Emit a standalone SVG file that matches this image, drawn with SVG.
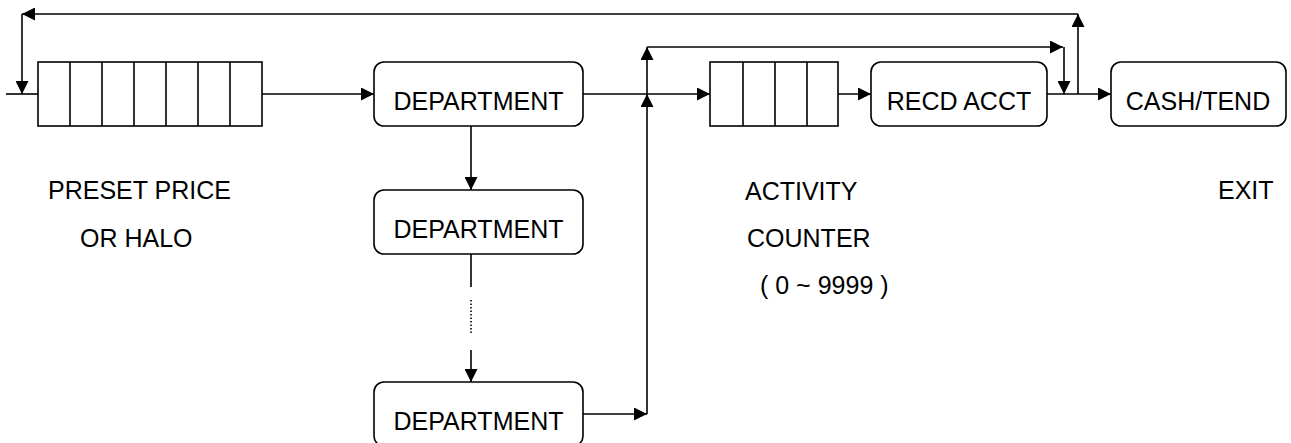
<svg xmlns="http://www.w3.org/2000/svg" width="1291" height="443" viewBox="0 0 1291 443">
<style>
.box{fill:#fff;stroke:#000;stroke-width:1.6}
.ln{fill:none;stroke:#000;stroke-width:1.6}
.arr{marker-end:url(#ah)}
.dot{stroke-dasharray:1.5 2}
text{font-family:"Liberation Sans",Arial,sans-serif;font-size:25px;fill:#000}
.c{text-anchor:middle}
</style>
<defs>
<marker id="ah" markerUnits="userSpaceOnUse" markerWidth="14" markerHeight="13" refX="13" refY="6.5" orient="auto">
<path d="M0,0 L13,6.5 L0,13 z" fill="#000"/>
</marker>
</defs>
<g id="preset">
<rect class="box" x="38" y="62" width="224" height="64"/>
<path class="ln" d="M70,62V126M102,62V126M134,62V126M166,62V126M198,62V126M230,62V126"/>
</g>
<g id="dept1"><rect class="box" x="374" y="62" width="209" height="64" rx="10"/><text class="c" x="478.5" y="110">DEPARTMENT</text></g>
<g id="dept2"><rect class="box" x="374" y="190" width="209" height="64" rx="10"/><text class="c" x="478.5" y="238">DEPARTMENT</text></g>
<g id="dept3"><rect class="box" x="374" y="382" width="209" height="64" rx="10"/><text class="c" x="478.5" y="430">DEPARTMENT</text></g>
<g id="counter">
<rect class="box" x="710" y="62" width="128" height="64"/>
<path class="ln" d="M743,62V126M775,62V126M807,62V126"/>
</g>
<g id="recd"><rect class="box" x="871" y="62" width="176" height="64" rx="10"/><text class="c" x="959" y="110">RECD ACCT</text></g>
<g id="cash"><rect class="box" x="1111" y="62" width="175" height="64" rx="10"/><text class="c" x="1198" y="110">CASH/TEND</text></g>
<g id="labels">
<text x="48" y="199">PRESET PRICE</text>
<text x="80" y="247">OR HALO</text>
<text x="745" y="200">ACTIVITY</text>
<text x="747" y="247">COUNTER</text>
<text x="760" y="294">( 0 ~ 9999 )</text>
<text x="1218" y="199">EXIT</text>
</g>
<g id="connectors">
<path class="ln" d="M6,94H38"/>
<path class="ln arr" d="M262,94H374"/>
<path class="ln arr" d="M583,94H710"/>
<path class="ln arr" d="M471,126V190"/>
<path class="ln" d="M471,254V287"/>
<path class="ln dot" d="M471,300V333"/>
<path class="ln arr" d="M471,350V382"/>
<path class="ln arr" d="M583,414H647"/>
<path class="ln arr" d="M647,414V94"/>
<path class="ln arr" d="M647,94V47"/>
<path class="ln arr" d="M647,47H1063"/>
<path class="ln arr" d="M1064,47V94"/>
<path class="ln arr" d="M838,94H871"/>
<path class="ln arr" d="M1047,94H1111"/>
<path class="ln arr" d="M1078,94V14"/>
<path class="ln arr" d="M1078,14H22"/>
<path class="ln arr" d="M22,14V94"/>
</g>
</svg>
